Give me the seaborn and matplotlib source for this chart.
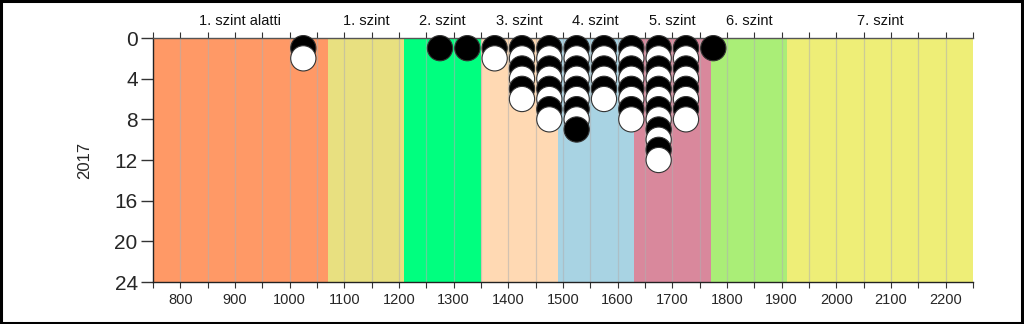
import matplotlib
matplotlib.use("Agg")
import matplotlib.pyplot as plt
from matplotlib.patches import Rectangle
import seaborn as sns
import pandas as pd

# Level bands
level_names = ["1. szint alatti", "1. szint", "2. szint", "3. szint",
               "4. szint", "5. szint", "6. szint", "7. szint"]
level_edges = [750, 1070, 1210, 1350, 1490, 1630, 1770, 1910, 2250]
level_colors = ["#FF9966", "#E8E080", "#00FF7F", "#FFD9B3",
                "#A8D3E3", "#D9889C", "#AAEE77", "#EEEE77"]

# Dot columns: score bin centre and number of students
score_bins = [1025, 1275, 1325, 1375, 1425, 1475, 1525, 1575, 1625, 1675, 1725, 1775]
counts = [2, 1, 1, 2, 6, 8, 9, 6, 8, 12, 8, 1]

x_ticks = [800, 900, 1000, 1100, 1200, 1300, 1400, 1500, 1600, 1700,
           1800, 1900, 2000, 2100, 2200]
y_ticks = [0, 4, 8, 12, 16, 20, 24]
year_label = "2017"

rows = []
for xb, n in zip(score_bins, counts):
    for k in range(1, n + 1):
        rows.append({"score": xb, "rank": k, "shade": "odd" if k % 2 else "even"})
df = pd.DataFrame(rows).sort_values(["rank", "score"]).reset_index(drop=True)

sns.set_style("white")
plt.rcParams["font.family"] = ["Liberation Sans", "DejaVu Sans"]

fig = plt.figure(figsize=(10.24, 3.24), dpi=100)
ax = fig.add_axes([0.1494, 0.1296, 0.8008, 0.7531])

for i, name in enumerate(level_names):
    ax.axvspan(level_edges[i], level_edges[i + 1], color=level_colors[i], lw=0, zorder=0)
    ax.text((level_edges[i] + level_edges[i + 1]) / 2, 1.04, name,
            transform=ax.get_xaxis_transform(), ha="center", va="bottom",
            fontsize=10.5, color="#111111", clip_on=False)

# vertical grid
for gx in range(800, 2250, 50):
    ax.axvline(gx, color="#b0b0b0", lw=0.9, alpha=0.55, zorder=1)

sns.scatterplot(data=df, x="score", y="rank", hue="shade",
                palette={"odd": "black", "even": "white"},
                s=330, edgecolor="#333333", linewidth=0.8,
                legend=False, ax=ax, zorder=3, clip_on=False)

ax.set_xlim(750, 2250)
ax.set_ylim(24, 0)
ax.set_xticks(x_ticks)
ax.set_xticks(range(750, 2251, 50), minor=True)
ax.set_yticks(y_ticks)
ax.tick_params(axis="y", labelsize=15, length=9, width=1, color="#333333", pad=2, left=True)
ax.tick_params(axis="x", which="major", labelsize=10.5, length=4, width=0.8,
               color="#333333", bottom=True, top=True, direction="out", pad=4)
ax.tick_params(axis="x", which="minor", length=4, width=0.8,
               color="#333333", bottom=True, top=True, direction="out")
ax.set_xlabel("")
ax.set_ylabel(year_label, fontsize=12, labelpad=16)

for side in ["left", "bottom", "top"]:
    ax.spines[side].set_visible(True)
    ax.spines[side].set_color("#222222")
    ax.spines[side].set_linewidth(1.0)
ax.spines["top"].set_color("#555555")
ax.spines["right"].set_visible(False)

fig.add_artist(Rectangle((0.001, 0.002), 0.997, 0.995, transform=fig.transFigure,
                         fill=False, edgecolor="black", linewidth=2.2))

fig.savefig("out.png", dpi=100)
